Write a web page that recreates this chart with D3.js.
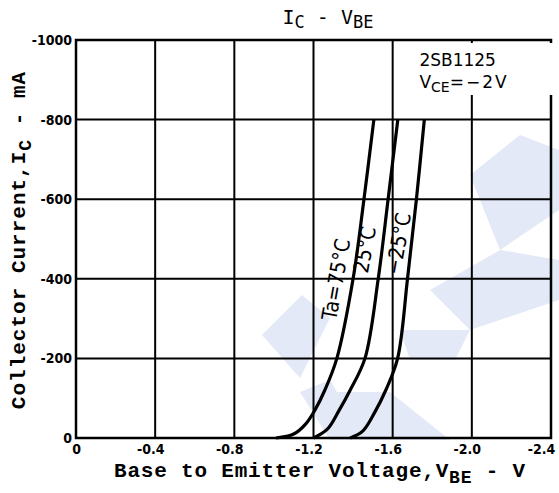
<!DOCTYPE html>
<html>
<head>
<meta charset="utf-8">
<script src="https://cdn.jsdelivr.net/npm/d3@7"></script>
<style>
  body { margin: 0; background: #fff; }
  svg { display: block; }
</style>
</head>
<body>
<script>
// Ic - Vbe curves, 2SB1125 (Vce = -2V)

// tick values
var xTicks = [0, -0.4, -0.8, -1.2, -1.6, -2.0, -2.4];
var xTickLabels = ["0", "-0.4", "-0.8", "-1.2", "-1.6", "-2.0", "-2.4"];
var yTicks = [0, -200, -400, -600, -800, -1000];
var yTickLabels = ["0", "-200", "-400", "-600", "-800", "-1000"];

// curves: Vbe (V) vs Ic (mA)
var vbe75 = [-1.01, -1.10, -1.16, -1.207, -1.257, -1.318, -1.40, -1.455, -1.505];
var ic75  = [0, -10, -35, -70, -120, -200, -400, -600, -800];
var vbe25 = [-1.20, -1.27, -1.33, -1.385, -1.46, -1.527, -1.577, -1.626];
var ic25  = [0, -22, -70, -120, -200, -400, -600, -800];
var vbeM25 = [-1.385, -1.45, -1.51, -1.565, -1.625, -1.675, -1.72, -1.76];
var icM25  = [0, -18, -65, -120, -200, -400, -600, -800];

var curveLabels = ["Ta=75°C", "25°C", "−25°C"];

var svgWidth = 559, svgHeight = 493;
var margin = { top: 40, right: 8, bottom: 55, left: 76 };
var width = 551 - margin.left;
var height = 438 - margin.top;

var svg = d3.select("body").append("svg")
  .attr("width", svgWidth)
  .attr("height", svgHeight);

// faint watermark in the background
var wm = svg.append("g").attr("fill", "#e3e9f6");
[
  [[262,335],[302,295],[330,318],[300,378]],
  [[300,392],[390,392],[450,440],[360,440]],
  [[300,392],[330,380],[365,440],[330,440]],
  [[470,175],[520,135],[559,150],[559,210],[500,250]],
  [[430,290],[500,250],[559,260],[559,300],[470,330]],
  [[400,330],[470,330],[455,360],[410,360]]
].forEach(function(p) {
  wm.append("polygon").attr("points", p.map(function(q) { return q.join(","); }).join(" "));
});

var chartGroup = svg.append("g")
  .attr("transform", `translate(${margin.left}, ${margin.top})`);

var xScale = d3.scaleLinear().domain([0, -2.4]).range([0, width]);
var yScale = d3.scaleLinear().domain([0, -1000]).range([height, 0]);

// grid
chartGroup.selectAll(".vgrid")
  .data(xTicks)
  .enter()
  .append("line")
  .attr("x1", d => xScale(d))
  .attr("x2", d => xScale(d))
  .attr("y1", 0)
  .attr("y2", height)
  .attr("stroke", "#000")
  .attr("stroke-width", 2);

chartGroup.selectAll(".hgrid")
  .data(yTicks)
  .enter()
  .append("line")
  .attr("x1", 0)
  .attr("x2", width)
  .attr("y1", d => yScale(d))
  .attr("y2", d => yScale(d))
  .attr("stroke", "#000")
  .attr("stroke-width", 2);

// frame
chartGroup.append("rect")
  .attr("width", width)
  .attr("height", height)
  .attr("fill", "none")
  .attr("stroke", "#000")
  .attr("stroke-width", 2.5);

// blank out under legend text on the -2.0 gridline
chartGroup.append("rect")
  .attr("x", xScale(-1.95))
  .attr("y", 3)
  .attr("width", 100)
  .attr("height", 52)
  .attr("fill", "#fff");

// axes (labels only)
var bottomAxis = d3.axisBottom(xScale)
  .tickValues(xTicks)
  .tickSize(0)
  .tickPadding(6)
  .tickFormat((d, i) => xTickLabels[i]);
var leftAxis = d3.axisLeft(yScale)
  .tickValues(yTicks)
  .tickSize(0)
  .tickPadding(4)
  .tickFormat((d, i) => yTickLabels[i]);

var xAxis = chartGroup.append("g")
  .attr("transform", `translate(0, ${height})`)
  .call(bottomAxis);
var yAxis = chartGroup.append("g").call(leftAxis);

[xAxis, yAxis].forEach(function(a) {
  a.select(".domain").remove();
  a.selectAll("text")
    .attr("font-family", "Liberation Sans Narrow, DejaVu Sans Condensed, sans-serif")
    .attr("font-weight", "bold")
    .attr("font-size", 14)
    .attr("fill", "#000");
});
xAxis.selectAll("text")
  .attr("dx", (d, i) => i === 0 ? 0 : (i === xTicks.length - 1 ? -10 : -5));

// curves
var line = d3.line()
  .x(d => xScale(d[0]))
  .y(d => yScale(d[1]))
  .curve(d3.curveCatmullRom.alpha(0.5));

[[vbe75, ic75], [vbe25, ic25], [vbeM25, icM25]].forEach(function(s) {
  var pts = s[0].map((v, i) => [v, s[1][i]]);
  chartGroup.append("path")
    .attr("d", line(pts))
    .attr("fill", "none")
    .attr("stroke", "#000")
    .attr("stroke-width", 3.2);
});

// curve labels
var labelPos = [[-1.35, -395], [-1.495, -470], [-1.665, -485]];
labelPos.forEach(function(p, i) {
  chartGroup.append("text")
    .attr("transform", `translate(${xScale(p[0])}, ${yScale(p[1])}) rotate(-80)`)
    .attr("text-anchor", "middle")
    .attr("font-family", "DejaVu Sans Condensed, DejaVu Sans, sans-serif")
    .attr("font-size", 21)
    .text(curveLabels[i]);
});

// legend
var legend = chartGroup.append("g")
  .attr("font-family", "DejaVu Sans, sans-serif")
  .attr("font-size", 17);
legend.append("text")
  .attr("x", xScale(-1.735))
  .attr("y", 26)
  .text("2SB1125");
var vce = legend.append("text")
  .attr("x", xScale(-1.735))
  .attr("y", 48);
vce.append("tspan").text("V");
vce.append("tspan").attr("dy", 4).attr("font-size", 14).text("CE");
vce.append("tspan").attr("dy", -4).attr("letter-spacing", 2).text("=−2V");

// title
var title = svg.append("text")
  .attr("x", 328)
  .attr("y", 24)
  .attr("text-anchor", "middle")
  .attr("font-family", "DejaVu Sans Mono, monospace")
  .attr("font-size", 20);
title.append("tspan").text("I");
title.append("tspan").attr("dy", 4).attr("font-size", 17).text("C");
title.append("tspan").attr("dy", -4).text(" - V");
title.append("tspan").attr("dy", 4).attr("font-size", 17).text("BE");

// x axis title
var xt = svg.append("text")
  .attr("x", 320)
  .attr("y", 477)
  .attr("text-anchor", "middle")
  .attr("font-family", "Liberation Mono, monospace")
  .attr("font-weight", "bold")
  .attr("font-size", 21)
  .attr("letter-spacing", 0.8);
xt.append("tspan").text("Base to Emitter Voltage,V");
xt.append("tspan").attr("dy", 6).attr("font-size", 18).text("BE");
xt.append("tspan").attr("dy", -6).text(" - V");

// y axis title
var yt = svg.append("text")
  .attr("transform", "translate(25, 240) rotate(-90)")
  .attr("text-anchor", "middle")
  .attr("font-family", "Liberation Mono, monospace")
  .attr("font-weight", "bold")
  .attr("font-size", 21)
  .attr("letter-spacing", 1);
yt.append("tspan").text("Collector Current,I");
yt.append("tspan").attr("dy", 6).attr("font-size", 18).text("C");
yt.append("tspan").attr("dy", -6).text(" - mA");
</script>
</body>
</html>
